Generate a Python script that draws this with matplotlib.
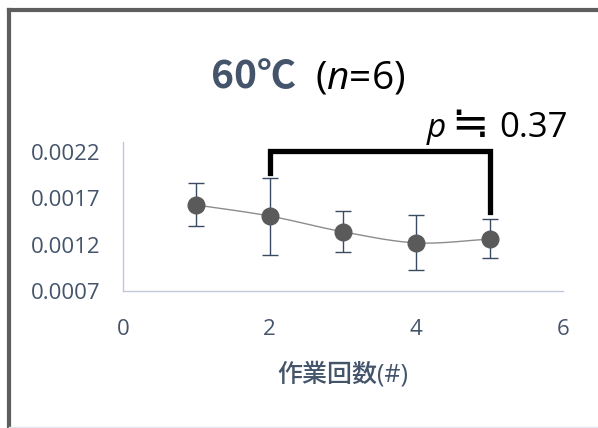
import numpy as np
import matplotlib.pyplot as plt
from matplotlib.lines import Line2D

# work count vs. measured value at 60 degC
runs = [1, 2, 3, 4, 5]
means = [0.00163, 0.00151, 0.00134, 0.00122, 0.00126]
err_hi = [0.00187, 0.00192, 0.00156, 0.00152, 0.00148]
err_lo = [0.00140, 0.00109, 0.00112, 0.00093, 0.00106]
yticks = [0.0007, 0.0012, 0.0017, 0.0022]
xticks = [0, 2, 4, 6]
bracket_runs = [2, 5]
bracket_y = [0.00198, 0.00221, 0.00221, 0.00155]

plt.rcParams['font.family'] = ['Open Sans', 'Noto Sans CJK JP', 'DejaVu Sans']
plt.rcParams['mathtext.fontset'] = 'custom'
plt.rcParams['mathtext.rm'] = 'Open Sans'
plt.rcParams['mathtext.it'] = 'Open Sans:italic'
slate = '#44546A'


def smooth(xs, ys, n=30):
    # Catmull-Rom curve through the points, like a spreadsheet "smoothed line"
    xs = np.asarray(xs, float)
    ys = np.asarray(ys, float)
    px = np.concatenate([[2 * xs[0] - xs[1]], xs, [2 * xs[-1] - xs[-2]]])
    py = np.concatenate([[2 * ys[0] - ys[1]], ys, [2 * ys[-1] - ys[-2]]])
    ox, oy = [], []
    t = np.linspace(0, 1, n)
    for i in range(1, len(px) - 2):
        for p, out in ((px, ox), (py, oy)):
            p0, p1, p2, p3 = p[i - 1], p[i], p[i + 1], p[i + 2]
            out.extend(0.5 * ((2 * p1) + (-p0 + p2) * t
                              + (2 * p0 - 5 * p1 + 4 * p2 - p3) * t ** 2
                              + (-p0 + 3 * p1 - 3 * p2 + p3) * t ** 3))
    return ox, oy


fig = plt.figure(figsize=(5.98, 4.28), dpi=100)
ax = fig.add_axes([0.2057, 0.3201, 0.7358, 0.3481])

sx, sy = smooth(runs, means)
ax.plot(sx, sy, color='#8C8C8C', lw=1.0, zorder=2)
yerr = [np.subtract(means, err_lo), np.subtract(err_hi, means)]
ax.errorbar(runs, means, yerr=yerr, fmt='none', ecolor='#3B4A63',
            elinewidth=1.0, capsize=6, capthick=1.0, zorder=3)
ax.plot(runs, means, 'o', color='#5A5A5A', ms=12, zorder=4)

ax.set_xlim(0, 6)
ax.set_ylim(0.0007, 0.00231)
ax.set_xticks(xticks)
ax.set_yticks(yticks)
ax.set_yticklabels([f"{v:.4f}" for v in yticks])
ax.tick_params(length=0, labelsize=16, colors=slate)
ax.tick_params(axis='y', pad=16.5)
ax.tick_params(axis='x', pad=20)
for s in ('top', 'right'):
    ax.spines[s].set_visible(False)
for s in ('left', 'bottom'):
    ax.spines[s].set_color('#BFC9D9')
    ax.spines[s].set_linewidth(1.0)
ax.set_xlabel('作業回数(#)', fontsize=18, color=slate, fontweight='medium',
              labelpad=16)

# significance bracket between run 2 and run 5
ax.plot([bracket_runs[0], bracket_runs[0], bracket_runs[1], bracket_runs[1]],
        bracket_y, color='black', lw=3.8,
        solid_joinstyle='miter', clip_on=False, zorder=5)
fig.text(0.714, 0.680, 'p', fontsize=24, style='italic', ha='left',
         va='baseline', color='black')
fig.text(0.786, 0.680, '≒', fontsize=32, ha='center', va='baseline',
         color='black', family=['DejaVu Sans', 'Noto Sans CJK JP'])
fig.text(0.950, 0.680, '0.37', fontsize=25, ha='right',
         va='baseline', color='black')

# title
fig.text(0.494, 0.794, '60℃', fontsize=28, fontweight='bold', color=slate,
         ha='right', va='baseline', family=['Noto Sans CJK JP'])
fig.text(0.527, 0.794, '($n$=6)', fontsize=28, ha='left', va='baseline')

# outer frame
fig.add_artist(Line2D([0.0145, 0.0145], [0.0, 0.976], color='#5E5E5E', lw=3))
fig.add_artist(Line2D([0.0145, 1.0], [0.976, 0.976], color='#5E5E5E', lw=3))
fig.add_artist(Line2D([0.0145, 1.0], [0.002, 0.002], color='#E4E8EE', lw=1))

fig.savefig('out.png', dpi=100)
